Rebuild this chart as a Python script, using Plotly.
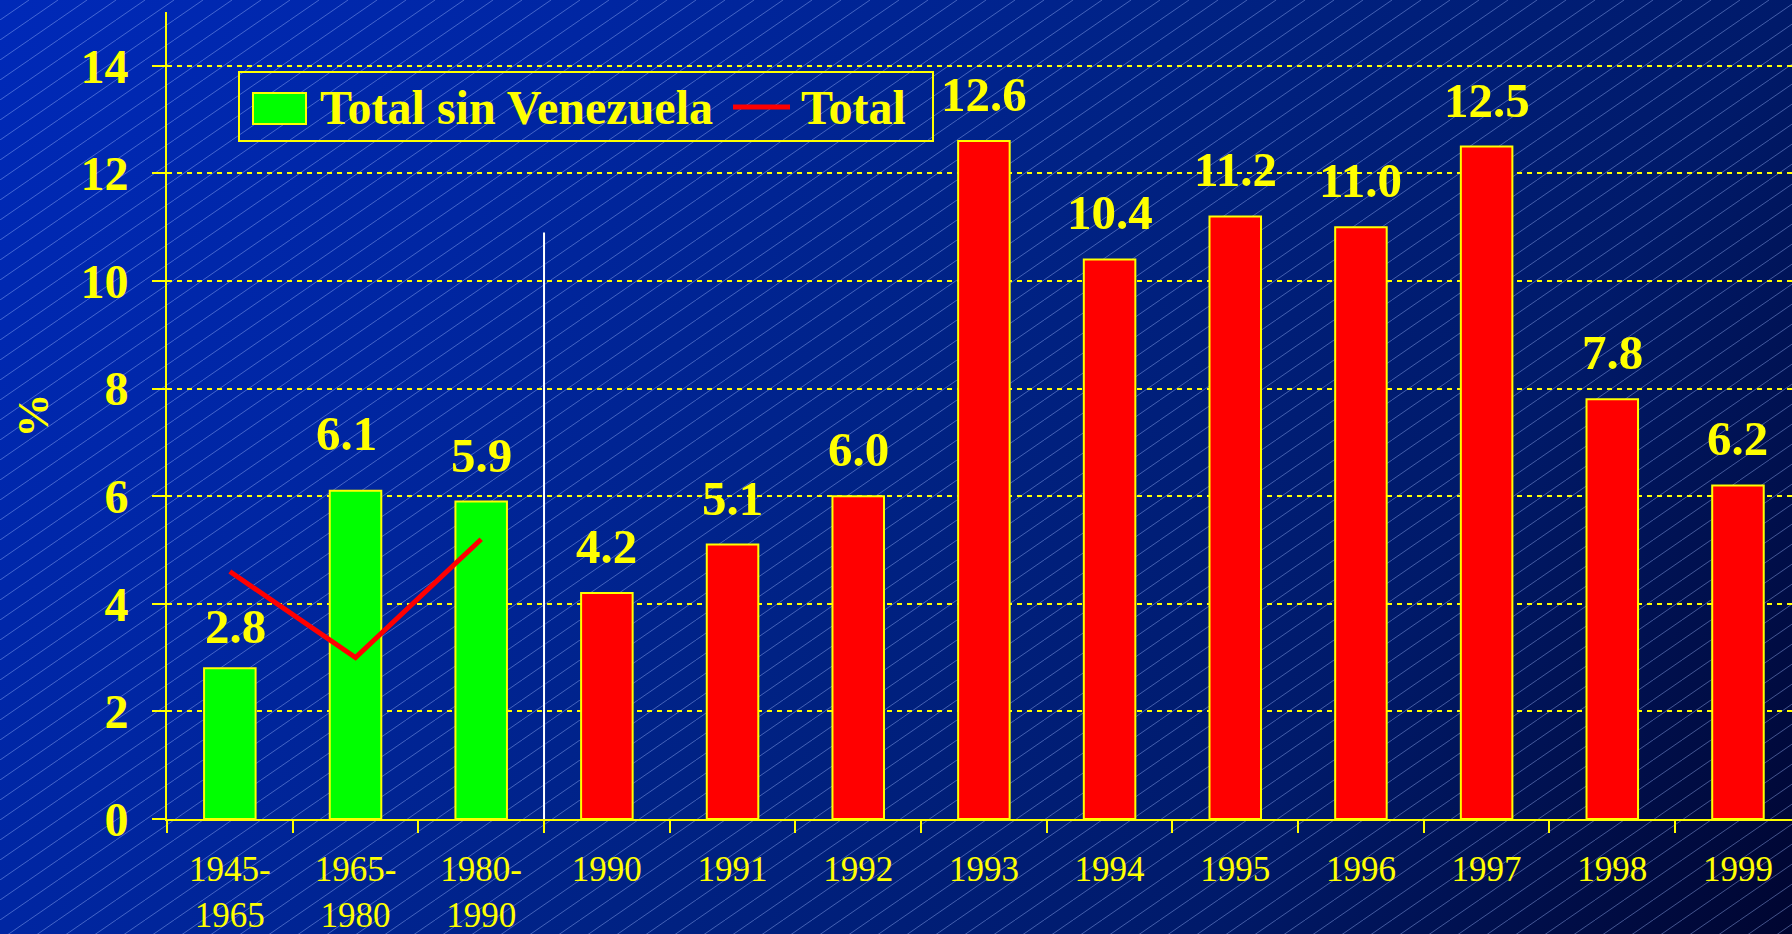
import base64
import plotly.graph_objects as go

# data
periodos = ["1945-<br>1965", "1965-<br>1980", "1980-<br>1990"]
total_sin_venezuela = [2.8, 6.1, 5.9]
total_periodos = [4.6, 3.0, 5.2]
anios = ["1990", "1991", "1992", "1993", "1994", "1995", "1996", "1997", "1998", "1999"]
total_anual = [4.2, 5.1, 6.0, 12.6, 10.4, 11.2, 11.0, 12.5, 7.8, 6.2]

categorias = periodos + anios

W, H = 1792, 934
ML, MR, MT, MB = 167, 0, 12, 115
PW, PH = W - ML - MR, H - MT - MB

AMARILLO = "#FFFF00"
FUENTE = "Liberation Serif"

# small hand nudges of a few labels (pixels), as in the original slide
ajuste_etiqueta = {"1945-<br>1965": (6, -5), "1965-<br>1980": (-9, 11)}


def px_x(px):
    return (px - ML) / PW


def px_y(py):
    return 1 - (py - MT) / PH


# background: blue gradient with thin diagonal hatching
fondo_svg = f"""<svg xmlns="http://www.w3.org/2000/svg" width="{W}" height="{H}" viewBox="0 0 {W} {H}" preserveAspectRatio="none">
<defs>
<linearGradient id="g" gradientUnits="userSpaceOnUse" x1="0" y1="0" x2="1696" y2="1084">
<stop offset="0" stop-color="#0029B8"/>
<stop offset="0.25" stop-color="#0026A2"/>
<stop offset="0.5" stop-color="#002284"/>
<stop offset="0.75" stop-color="#001A6A"/>
<stop offset="1" stop-color="#000530"/>
</linearGradient>
<pattern id="h" patternUnits="userSpaceOnUse" width="29" height="20">
<line x1="-1" y1="20.7" x2="30" y2="-0.7" stroke="rgba(160,185,255,0.42)" stroke-width="1"/>
</pattern>
</defs>
<rect width="{W}" height="{H}" fill="url(#g)"/>
<rect width="{W}" height="{H}" fill="url(#h)"/>
</svg>"""
fondo_uri = "data:image/svg+xml;base64," + base64.b64encode(fondo_svg.encode()).decode()

fig = go.Figure()

fig.add_trace(go.Bar(
    x=periodos, y=total_sin_venezuela, name="Total sin Venezuela",
    marker=dict(color="#00FF00", line=dict(color=AMARILLO, width=2)),
    width=0.41,
))
fig.add_trace(go.Bar(
    x=anios, y=total_anual, name="Total anual",
    marker=dict(color="#FF0000", line=dict(color=AMARILLO, width=2)),
    width=0.41,
))
fig.add_trace(go.Scatter(
    x=periodos, y=total_periodos, name="Total", mode="lines",
    line=dict(color="#FF0000", width=5),
))

# value labels above the bars (x as category index so "1990" etc. are not read as numbers)
for xs, ys in [(periodos, total_sin_venezuela), (anios, total_anual)]:
    for x, y in zip(xs, ys):
        dx, dy = ajuste_etiqueta.get(x, (0, 0))
        fig.add_annotation(
            x=categorias.index(x), y=y, text=f"<b>{y:.1f}</b>", showarrow=False,
            yanchor="bottom", xshift=dx, yshift=17 + dy,
            font=dict(family=FUENTE, size=49, color=AMARILLO),
        )

# separator between periods and years
fig.add_shape(type="line", xref="x", yref="y", x0=2.5, x1=2.5, y0=0, y1=10.9,
              line=dict(color="white", width=2))

# custom legend
fig.add_shape(type="rect", xref="paper", yref="paper",
              x0=px_x(239), x1=px_x(933), y0=px_y(141), y1=px_y(72),
              line=dict(color=AMARILLO, width=2))
fig.add_shape(type="rect", xref="paper", yref="paper",
              x0=px_x(253), x1=px_x(306), y0=px_y(124), y1=px_y(93),
              fillcolor="#00FF00", line=dict(color=AMARILLO, width=2))
fig.add_shape(type="line", xref="paper", yref="paper",
              x0=px_x(733), x1=px_x(790), y0=px_y(107), y1=px_y(107),
              line=dict(color="#FF0000", width=5))
for txt, xpx in [("Total sin Venezuela", 318), ("Total", 799)]:
    fig.add_annotation(
        xref="paper", yref="paper", x=px_x(xpx), y=px_y(108),
        text=f"<b>{txt}</b>", showarrow=False, xanchor="left", yanchor="middle",
        font=dict(family=FUENTE, size=48, color=AMARILLO),
    )

fig.update_layout(
    width=W, height=H,
    margin=dict(l=ML, r=MR, t=MT, b=MB, autoexpand=False),
    paper_bgcolor="#00207F",
    plot_bgcolor="rgba(0,0,0,0)",
    barmode="overlay",
    showlegend=False,
    images=[dict(
        source=fondo_uri, xref="paper", yref="paper",
        x=-ML / PW, y=1 + MT / PH, sizex=W / PW, sizey=H / PH,
        xanchor="left", yanchor="top", sizing="stretch", layer="below",
    )],
    xaxis=dict(
        type="category", automargin=False,
        categoryorder="array", categoryarray=categorias,
        range=[-0.5, 12.43],
        showline=True, linecolor=AMARILLO, linewidth=2,
        ticks="outside", tickson="boundaries", ticklen=12, tickwidth=2, tickcolor=AMARILLO,
        showgrid=False, zeroline=False,
        tickfont=dict(family=FUENTE, size=35, color=AMARILLO),
        ticklabelstandoff=18,
    ),
    yaxis=dict(
        range=[0, 15], automargin=False,
        showline=True, linecolor=AMARILLO, linewidth=2,
        ticks="outside", ticklen=13, tickwidth=2, tickcolor=AMARILLO,
        showgrid=True, gridcolor=AMARILLO, gridwidth=2, griddash="5px,5px",
        zeroline=False,
        tickvals=[0, 2, 4, 6, 8, 10, 12, 14],
        ticktext=[f"<b>{v}</b>" for v in [0, 2, 4, 6, 8, 10, 12, 14]],
        tickfont=dict(family=FUENTE, size=48, color=AMARILLO),
        ticklabelstandoff=14,
        title=dict(text="<b>%</b>", standoff=18,
                   font=dict(family=FUENTE, size=44, color=AMARILLO)),
    ),
)

fig.write_html("out.html", config={"displayModeBar": False},
               post_script="document.body.style.margin='0';")
